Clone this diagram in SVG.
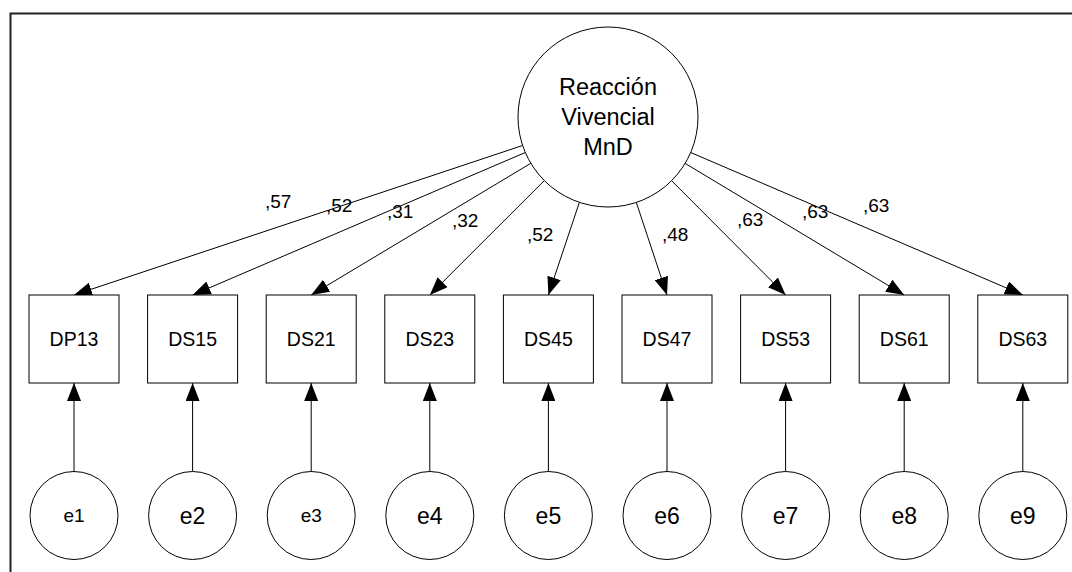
<svg xmlns="http://www.w3.org/2000/svg" width="1072" height="572" viewBox="0 0 1072 572">
<style>
text{font-family:"Liberation Sans",Arial,sans-serif;fill:#000}
.node{fill:#fff;stroke:#000;stroke-width:1}
.lbl{font-size:19px}
.bt{font-size:19.5px;text-anchor:middle}
.es{font-size:19px;text-anchor:middle}
.el{font-size:23px;text-anchor:middle}
.mt{font-size:23.5px;text-anchor:middle}
.conn line{stroke:#000;stroke-width:1;marker-end:url(#ah)}
</style>
<defs>
<marker id="ah" viewBox="0 0 18 14" refX="18" refY="7" markerWidth="18" markerHeight="14" markerUnits="userSpaceOnUse" orient="auto">
<path d="M0,0 L18,7 L0,14 Z" fill="#000"/>
</marker>
</defs>
<rect width="1072" height="572" fill="#fff"/>
<path d="M10.5,572 V13.5 H1072" fill="none" stroke="#222" stroke-width="2"/>
<g id="connectors" class="conn">
<line x1="522.6" y1="145.5" x2="74" y2="295"/>
<line x1="525.3" y1="152.5" x2="192.6" y2="295"/>
<line x1="530.8" y1="163.3" x2="311.2" y2="295"/>
<line x1="544.3" y1="180.6" x2="429.8" y2="295"/>
<line x1="579.4" y1="202.3" x2="548.4" y2="295"/>
<line x1="636.3" y1="202.4" x2="667" y2="295"/>
<line x1="671.6" y1="180.7" x2="785.6" y2="295"/>
<line x1="685.1" y1="163.4" x2="904.2" y2="295"/>
<line x1="690.7" y1="152.5" x2="1022.8" y2="295"/>
<line x1="74" y1="471.5" x2="74" y2="383"/>
<line x1="192.6" y1="471.5" x2="192.6" y2="383"/>
<line x1="311.2" y1="471.5" x2="311.2" y2="383"/>
<line x1="429.8" y1="471.5" x2="429.8" y2="383"/>
<line x1="548.4" y1="471.5" x2="548.4" y2="383"/>
<line x1="667" y1="471.5" x2="667" y2="383"/>
<line x1="785.6" y1="471.5" x2="785.6" y2="383"/>
<line x1="904.2" y1="471.5" x2="904.2" y2="383"/>
<line x1="1022.8" y1="471.5" x2="1022.8" y2="383"/>
</g>
<g id="labels" class="lbl">
<text x="265" y="208">,57</text>
<text x="326" y="212">,52</text>
<text x="387" y="218">,31</text>
<text x="452" y="227">,32</text>
<text x="527" y="241">,52</text>
<text x="662" y="241">,48</text>
<text x="737" y="226">,63</text>
<text x="802" y="218">,63</text>
<text x="863" y="212">,63</text>
</g>
<g id="latent">
<circle class="node" cx="608" cy="117" r="90"/>
<text class="mt" x="608" y="95">Reacción</text>
<text class="mt" x="608" y="125">Vivencial</text>
<text class="mt" x="608" y="155">MnD</text>
</g>
<g id="DP13"><rect class="node" x="29" y="295" width="90" height="88"/><text class="bt" x="74" y="346">DP13</text></g>
<g id="DS15"><rect class="node" x="147.6" y="295" width="90" height="88"/><text class="bt" x="192.6" y="346">DS15</text></g>
<g id="DS21"><rect class="node" x="266.2" y="295" width="90" height="88"/><text class="bt" x="311.2" y="346">DS21</text></g>
<g id="DS23"><rect class="node" x="384.8" y="295" width="90" height="88"/><text class="bt" x="429.8" y="346">DS23</text></g>
<g id="DS45"><rect class="node" x="503.4" y="295" width="90" height="88"/><text class="bt" x="548.4" y="346">DS45</text></g>
<g id="DS47"><rect class="node" x="622" y="295" width="90" height="88"/><text class="bt" x="667" y="346">DS47</text></g>
<g id="DS53"><rect class="node" x="740.6" y="295" width="90" height="88"/><text class="bt" x="785.6" y="346">DS53</text></g>
<g id="DS61"><rect class="node" x="859.2" y="295" width="90" height="88"/><text class="bt" x="904.2" y="346">DS61</text></g>
<g id="DS63"><rect class="node" x="977.8" y="295" width="90" height="88"/><text class="bt" x="1022.8" y="346">DS63</text></g>
<g id="e1"><circle class="node" cx="74" cy="515.5" r="44"/><text class="es" x="74" y="522">e1</text></g>
<g id="e2"><circle class="node" cx="192.6" cy="515.5" r="44"/><text class="el" x="192.6" y="524">e2</text></g>
<g id="e3"><circle class="node" cx="311.2" cy="515.5" r="44"/><text class="es" x="311.2" y="522">e3</text></g>
<g id="e4"><circle class="node" cx="429.8" cy="515.5" r="44"/><text class="el" x="429.8" y="524">e4</text></g>
<g id="e5"><circle class="node" cx="548.4" cy="515.5" r="44"/><text class="el" x="548.4" y="524">e5</text></g>
<g id="e6"><circle class="node" cx="667" cy="515.5" r="44"/><text class="el" x="667" y="524">e6</text></g>
<g id="e7"><circle class="node" cx="785.6" cy="515.5" r="44"/><text class="el" x="785.6" y="524">e7</text></g>
<g id="e8"><circle class="node" cx="904.2" cy="515.5" r="44"/><text class="el" x="904.2" y="524">e8</text></g>
<g id="e9"><circle class="node" cx="1022.8" cy="515.5" r="44"/><text class="el" x="1022.8" y="524">e9</text></g>
</svg>
